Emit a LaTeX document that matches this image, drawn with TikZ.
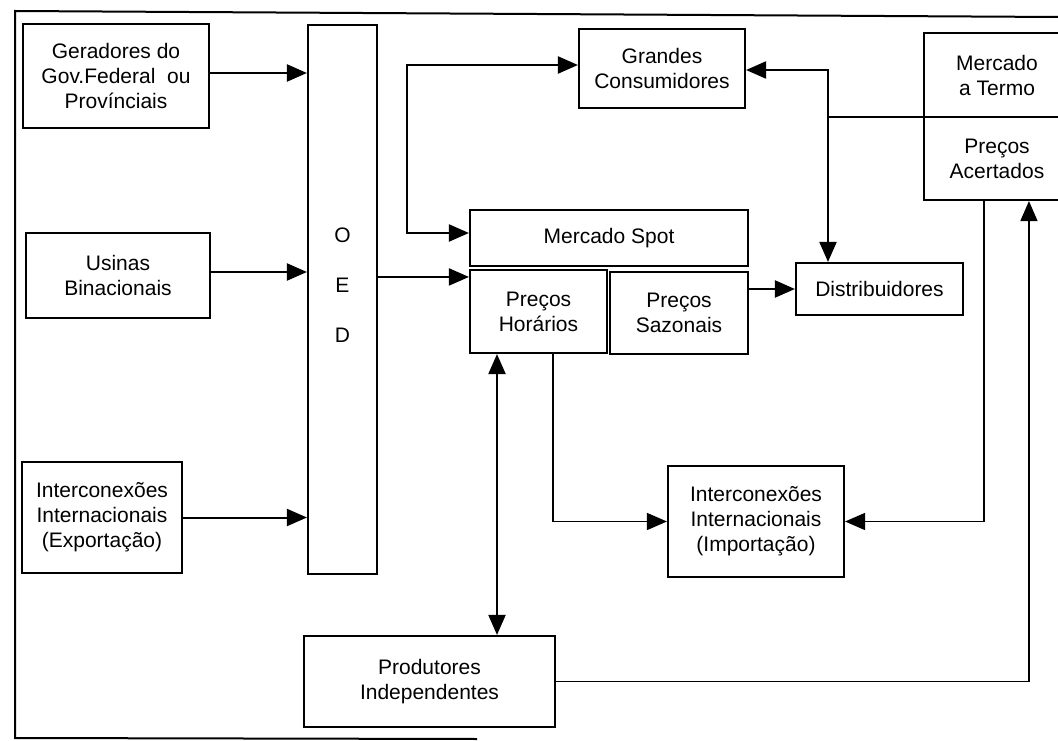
\documentclass[tikz,border=0pt]{standalone}
\usepackage{fontspec}
\setmainfont{Liberation Sans}
\usetikzlibrary{arrows.meta}
\begin{document}
\begin{tikzpicture}[x=1pt,y=-1pt,
  box/.style={draw, line width=2.1pt, fill=white, align=center, inner sep=0pt,
              font=\fontsize{21}{25}\selectfont},
  conn/.style={line width=2pt},
  thin conn/.style={line width=1.5pt},
  tip/.tip={Triangle[length=20pt,width=17pt]},
  arr/.style={conn, -tip},
  arrs/.style={conn, tip-tip},
]
\clip (0,0) rectangle (1058,741);

% outer frame
\draw[line width=2pt] (1058,17) -- (15,11) -- (15,738) -- (477,739);

% generating side
\node[box, minimum width=186pt, minimum height=104pt] (ger) at (116,76)
  {Geradores do\\Gov.Federal\ \ ou\\Provínciais};
\node[box, minimum width=184pt, minimum height=85pt] (usi) at (118,275.5)
  {Usinas\\Binacionais};
\node[box, minimum width=160pt, minimum height=111pt] (exp) at (102,517.5)
  {Interconexões\\Internacionais\\(Exportação)};

% dispatch organisation
\node[box, minimum width=69pt, minimum height=549pt] (oed) at (342.5,299.5) {};
\node[align=center, inner sep=0pt, font=\fontsize{21}{50}\selectfont] (oedtxt)
  at (342.5,285) {O\\E\\D};

% market side
\node[box, minimum width=166pt, minimum height=79pt] (gc) at (662,68.5)
  {Grandes\\Consumidores};
\node[box, minimum width=146pt, minimum height=84pt] (termo) at (997,75)
  {Mercado\\a Termo};
\node[box, minimum width=146pt, minimum height=83pt] (acert) at (997,158.5)
  {Preços\\Acertados};
\node[box, minimum width=278pt, minimum height=56pt] (spot) at (609,238)
  {Mercado Spot};
\node[box, minimum width=137pt, minimum height=83pt] (hor) at (538.5,311.5)
  {Preços\\Horários};
\node[box, minimum width=138pt, minimum height=82pt] (saz) at (679,313)
  {Preços\\Sazonais};
\node[box, minimum width=167pt, minimum height=52pt] (dist) at (879.5,289)
  {Distribuidores};
\node[box, minimum width=176pt, minimum height=111pt] (imp) at (756,521.5)
  {Interconexões\\Internacionais\\(Importação)};
\node[box, minimum width=251pt, minimum height=91pt] (prod) at (429.5,681.5)
  {Produtores\\Independentes};

% inputs to the dispatch organisation
\draw[arr] ([yshift=3pt]ger.east) -- ([yshift=3pt]ger.east -| oed.west);
\draw[arr] ([yshift=3.5pt]usi.east) -- ([yshift=3.5pt]usi.east -| oed.west);
\draw[arr] (exp.east) -- (exp.east -| oed.west);

% dispatch to hourly prices
\coordinate (hin) at ([yshift=-8pt]hor.north west);
\draw[arr] (oed.east |- hin) -- (hin);

% large consumers <-> spot market
\coordinate (lx) at (407,0);
\coordinate (gcw) at ([yshift=3.5pt]gc.west);
\coordinate (spw) at ([yshift=5pt]spot.west);
\draw[arrs] (gcw) -- (gcw -| lx) |- (spw);

% forward market branch
\coordinate (j) at (828,117);
\draw[conn] (j) -- (j -| termo.south west);
\draw[arr] (j) |- ([yshift=-1.5pt]gc.east);
\draw[arr] (j) -- (j |- dist.north);

% seasonal prices to distributors
\draw[arr] (dist.west -| saz.east) -- (dist.west);

% independent producers <-> hourly prices
\coordinate (hp) at ([xshift=-41.5pt]hor.south);
\draw[arrs] (hp) -- (hp |- prod.north);

% hourly prices to imports
\coordinate (hq) at ([xshift=14.5pt]hor.south);
\draw[thin conn, -tip] (hq) |- (imp.west);

% agreed prices to imports
\coordinate (aq) at ([xshift=61pt]acert.south west);
\draw[thin conn, -tip] (aq) |- (imp.east);

% independent producers to agreed prices
\coordinate (ar) at ([xshift=106pt]acert.south west);
\draw[thin conn, -tip] (prod.east) -| (ar);
\end{tikzpicture}
\end{document}
